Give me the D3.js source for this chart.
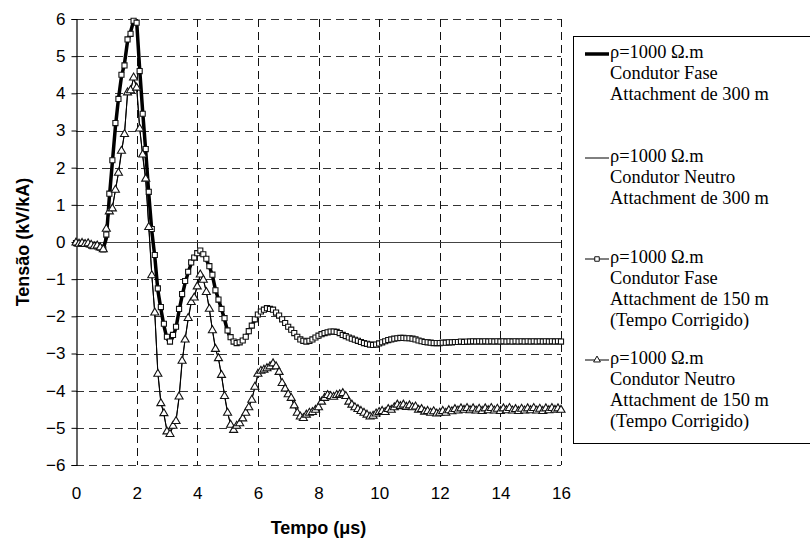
<!DOCTYPE html>
<html><head><meta charset="utf-8">
<script src="https://cdn.jsdelivr.net/npm/d3@7"></script>
<style>html,body{margin:0;padding:0;background:#fff;}svg{display:block;}</style>
</head><body>
<svg id="chart" width="810" height="542"></svg>
<script>
const time = [0,0.1,0.2,0.3,0.4,0.5,0.6,0.7,0.8,0.9,1,1.1,1.2,1.3,1.4,1.5,1.6,1.7,1.8,1.9,2,2.1,2.2,2.3,2.4,2.5,2.6,2.7,2.8,2.9,3,3.1,3.2,3.3,3.4,3.5,3.6,3.7,3.8,3.9,4,4.1,4.2,4.3,4.4,4.5,4.6,4.7,4.8,4.9,5,5.1,5.2,5.3,5.4,5.5,5.6,5.7,5.8,5.9,6,6.1,6.2,6.3,6.4,6.5,6.6,6.7,6.8,6.9,7,7.1,7.2,7.3,7.4,7.5,7.6,7.7,7.8,7.9,8,8.1,8.2,8.3,8.4,8.5,8.6,8.7,8.8,8.9,9,9.1,9.2,9.3,9.4,9.5,9.6,9.7,9.8,9.9,10,10.1,10.2,10.3,10.4,10.5,10.6,10.7,10.8,10.9,11,11.1,11.2,11.3,11.4,11.5,11.6,11.7,11.8,11.9,12,12.1,12.2,12.3,12.4,12.5,12.6,12.7,12.8,12.9,13,13.1,13.2,13.3,13.4,13.5,13.6,13.7,13.8,13.9,14,14.1,14.2,14.3,14.4,14.5,14.6,14.7,14.8,14.9,15,15.1,15.2,15.3,15.4,15.5,15.6,15.7,15.8,15.9,16];

const fase300 = [-0.02,-0.04,-0.04,-0.06,-0.05,-0.08,-0.1,-0.1,-0.14,-0.18,
0.1,1.2,2.15,3.1,3.85,4.45,4.8,5.4,5.65,5.95,
5.95,4.65,3.5,2.45,1.3,0.3,-0.4,-1.3,-1.8,-2.25,
-2.6,-2.7,-2.55,-2.3,-1.85,-1.45,-1.1,-0.82,-0.58,-0.42,
-0.3,-0.25,-0.32,-0.48,-0.66,-0.9,-1.28,-1.55,-1.8,-2.08,
-2.4,-2.58,-2.68,-2.72,-2.7,-2.64,-2.55,-2.42,-2.25,-2.1,
-1.96,-1.87,-1.82,-1.79,-1.8,-1.83,-1.9,-1.99,-2.08,-2.18,
-2.28,-2.37,-2.46,-2.55,-2.62,-2.66,-2.68,-2.66,-2.62,-2.57,
-2.52,-2.48,-2.45,-2.43,-2.42,-2.41,-2.42,-2.45,-2.49,-2.53,
-2.57,-2.6,-2.63,-2.66,-2.69,-2.72,-2.74,-2.75,-2.76,-2.75,
-2.73,-2.7,-2.67,-2.65,-2.63,-2.61,-2.6,-2.59,-2.59,-2.59,
-2.6,-2.61,-2.63,-2.65,-2.67,-2.69,-2.7,-2.71,-2.71,-2.72,
-2.72,-2.71,-2.71,-2.7,-2.7,-2.69,-2.69,-2.69,-2.68,-2.68,
-2.68,-2.68,-2.67,-2.68,-2.68,-2.67,-2.67,-2.68,-2.68,-2.67,
-2.67,-2.68,-2.68,-2.67,-2.67,-2.68,-2.68,-2.67,-2.67,-2.68,
-2.68,-2.67,-2.67,-2.68,-2.68,-2.67,-2.67,-2.68,-2.68,-2.67,-2.67];

const neutro300 = [-0.03,-0.04,-0.05,-0.05,-0.06,-0.07,-0.1,-0.12,-0.14,-0.18,
0.3,0.8,0.95,1.38,1.85,2.4,2.95,3.95,4.1,4.4,
4.2,3.1,2.3,1.65,0.45,-0.85,-1.95,-3.5,-4.3,-4.65,
-5.05,-5.15,-4.98,-4.8,-4.2,-3.25,-2.6,-2.1,-1.65,-1.45,
-1.18,-0.9,-1.0,-1.33,-1.82,-2.35,-2.85,-3.15,-3.6,-4.1,
-4.58,-4.9,-5.04,-4.97,-4.86,-4.76,-4.62,-4.44,-4.22,-3.92,
-3.58,-3.48,-3.43,-3.39,-3.34,-3.28,-3.34,-3.52,-3.78,-3.96,
-4.12,-4.22,-4.38,-4.58,-4.69,-4.72,-4.66,-4.61,-4.57,-4.5,
-4.42,-4.31,-4.2,-4.14,-4.14,-4.15,-4.13,-4.1,-4.09,-4.16,
-4.28,-4.37,-4.44,-4.5,-4.55,-4.6,-4.64,-4.68,-4.67,-4.62,
-4.57,-4.55,-4.54,-4.51,-4.49,-4.45,-4.41,-4.4,-4.4,-4.42,
-4.42,-4.44,-4.46,-4.5,-4.52,-4.55,-4.57,-4.58,-4.59,-4.6,
-4.58,-4.57,-4.56,-4.54,-4.53,-4.52,-4.51,-4.5,-4.5,-4.5,
-4.5,-4.51,-4.51,-4.51,-4.51,-4.5,-4.5,-4.5,-4.51,-4.51,
-4.51,-4.51,-4.5,-4.5,-4.5,-4.51,-4.51,-4.51,-4.5,-4.5,
-4.5,-4.5,-4.51,-4.51,-4.51,-4.5,-4.5,-4.5,-4.51,-4.51,-4.51];

const fase150 = [-0.03,-0.05,-0.02,-0.05,-0.06,-0.1,-0.08,-0.12,-0.15,-0.2,
0.2,1.3,2.2,3.2,3.85,4.5,4.75,5.45,5.6,5.95,
5.9,4.6,3.45,2.5,1.35,0.35,-0.35,-1.25,-1.75,-2.2,
-2.55,-2.68,-2.5,-2.28,-1.8,-1.4,-1.05,-0.8,-0.55,-0.42,
-0.3,-0.23,-0.33,-0.45,-0.65,-0.88,-1.3,-1.55,-1.8,-2.05,
-2.38,-2.56,-2.68,-2.72,-2.7,-2.65,-2.55,-2.4,-2.25,-2.08,
-1.95,-1.87,-1.82,-1.78,-1.8,-1.82,-1.9,-1.98,-2.08,-2.18,
-2.28,-2.36,-2.45,-2.55,-2.62,-2.66,-2.68,-2.66,-2.62,-2.57,
-2.52,-2.48,-2.45,-2.43,-2.41,-2.41,-2.42,-2.45,-2.5,-2.53,
-2.57,-2.6,-2.63,-2.66,-2.69,-2.72,-2.74,-2.76,-2.77,-2.76,
-2.73,-2.7,-2.67,-2.64,-2.62,-2.6,-2.59,-2.58,-2.58,-2.59,
-2.59,-2.6,-2.62,-2.65,-2.67,-2.69,-2.7,-2.71,-2.72,-2.72,
-2.72,-2.71,-2.71,-2.7,-2.7,-2.69,-2.69,-2.68,-2.69,-2.68,
-2.68,-2.67,-2.68,-2.67,-2.68,-2.67,-2.68,-2.67,-2.68,-2.67,
-2.68,-2.67,-2.68,-2.67,-2.68,-2.67,-2.68,-2.67,-2.68,-2.67,
-2.68,-2.67,-2.68,-2.67,-2.68,-2.67,-2.68,-2.67,-2.68,-2.67,-2.68];

const neutro150 = [-0.02,-0.05,-0.03,-0.06,-0.04,-0.08,-0.12,-0.1,-0.15,-0.2,
0.35,0.82,0.9,1.4,1.86,2.45,2.9,4.02,4.08,4.42,
4.15,3.05,2.35,1.7,0.4,-0.9,-1.9,-3.55,-4.34,-4.61,
-5.1,-5.17,-4.95,-4.82,-4.16,-3.2,-2.63,-2.05,-1.62,-1.5,
-1.2,-0.88,-1.02,-1.35,-1.8,-2.38,-2.88,-3.13,-3.58,-4.15,
-4.6,-4.92,-5.06,-4.95,-4.88,-4.75,-4.6,-4.45,-4.25,-3.9,
-3.55,-3.47,-3.44,-3.4,-3.35,-3.27,-3.35,-3.5,-3.8,-3.95,
-4.1,-4.2,-4.4,-4.6,-4.7,-4.74,-4.65,-4.6,-4.58,-4.52,
-4.45,-4.3,-4.2,-4.12,-4.15,-4.17,-4.12,-4.1,-4.07,-4.15,
-4.3,-4.38,-4.45,-4.5,-4.55,-4.6,-4.65,-4.7,-4.68,-4.62,
-4.58,-4.55,-4.58,-4.5,-4.52,-4.45,-4.38,-4.42,-4.38,-4.44,
-4.4,-4.45,-4.43,-4.52,-4.5,-4.57,-4.55,-4.6,-4.56,-4.62,
-4.6,-4.55,-4.6,-4.53,-4.56,-4.5,-4.54,-4.48,-4.52,-4.47,
-4.53,-4.48,-4.54,-4.49,-4.55,-4.48,-4.53,-4.47,-4.54,-4.49,
-4.55,-4.48,-4.53,-4.47,-4.54,-4.5,-4.55,-4.49,-4.54,-4.48,
-4.53,-4.47,-4.54,-4.49,-4.55,-4.48,-4.53,-4.47,-4.52,-4.48,-4.52];

const xTicks = [0,2,4,6,8,10,12,14,16];
const yTicks = [-6,-5,-4,-3,-2,-1,0,1,2,3,4,5,6];

const legendLines = [
  ["ρ=1000 Ω.m","Condutor Fase","Attachment de 300 m"],
  ["ρ=1000 Ω.m","Condutor Neutro","Attachment de 300 m"],
  ["ρ=1000 Ω.m","Condutor Fase","Attachment de 150 m","(Tempo Corrigido)"],
  ["ρ=1000 Ω.m","Condutor Neutro","Attachment de 150 m","(Tempo Corrigido)"]
];

const svg = d3.select("#chart");
const L = 76, R = 561, T = 19, B = 465;
const x = d3.scaleLinear().domain([0,16]).range([L,R]);
const y = d3.scaleLinear().domain([-6,6]).range([B,T]);

const sansFont = "'Liberation Sans', Arial, sans-serif";
const serifFont = "'Liberation Serif', 'Times New Roman', serif";

// gridlines
const grid = svg.append("g");
yTicks.filter(v => v !== 0).forEach(v => {
  grid.append("line").attr("x1", L).attr("x2", R).attr("y1", Math.round(y(v))+0.5).attr("y2", Math.round(y(v))+0.5)
    .attr("stroke", "#333").attr("stroke-width", 1).attr("stroke-dasharray", "8,5");
});
xTicks.filter(v => v !== 0).forEach(v => {
  grid.append("line").attr("y1", T).attr("y2", B).attr("x1", Math.round(x(v))+0.5).attr("x2", Math.round(x(v))+0.5)
    .attr("stroke", "#111").attr("stroke-width", 1).attr("stroke-dasharray", "8,5");
});
// zero axis line
grid.append("line").attr("x1", L).attr("x2", R).attr("y1", Math.round(y(0))+0.5).attr("y2", Math.round(y(0))+0.5)
  .attr("stroke", "#444").attr("stroke-width", 1);

// y axis
const yAxis = d3.axisLeft(y).tickValues(yTicks).tickSize(5).tickPadding(6).tickFormat(d3.format("d"));
const ya = svg.append("g").attr("transform", `translate(${L+0.5},0)`).call(yAxis);
ya.select(".domain").attr("stroke", "#000").attr("stroke-width", 1.2);
ya.selectAll(".tick line").attr("stroke", "#000");
ya.selectAll("text").attr("font-family", sansFont).attr("font-size", 17).attr("fill", "#000");

// x tick labels
const xAxis = d3.axisBottom(x).tickValues(xTicks).tickSize(0).tickPadding(22).tickFormat(d3.format("d"));
const xa = svg.append("g").attr("transform", `translate(0,${B})`).call(xAxis);
xa.select(".domain").remove();
xa.selectAll("text").attr("font-family", sansFont).attr("font-size", 17).attr("fill", "#000");

// series
const line = d3.line().x((d,i) => x(time[i])).y(d => y(d));
const plot = svg.append("g");
plot.append("path").datum(fase300).attr("d", line).attr("fill","none").attr("stroke","#000").attr("stroke-width",3.5).attr("stroke-linejoin","round");
plot.append("path").datum(neutro300).attr("d", line).attr("fill","none").attr("stroke","#000").attr("stroke-width",1);
plot.append("path").datum(fase150).attr("d", line).attr("fill","none").attr("stroke","#000").attr("stroke-width",1);
plot.append("path").datum(neutro150).attr("d", line).attr("fill","none").attr("stroke","#000").attr("stroke-width",1);

const sq = d3.symbol().type(d3.symbolSquare).size(26);
const tri = d3.symbol().type(d3.symbolTriangle).size(28);
plot.selectAll(".sq").data(fase150).enter().append("path")
  .attr("d", sq).attr("transform", (d,i) => `translate(${x(time[i])},${y(d)})`)
  .attr("fill","#fff").attr("stroke","#111").attr("stroke-width",1.1);
plot.selectAll(".tri").data(neutro150).enter().append("path")
  .attr("d", tri).attr("transform", (d,i) => `translate(${x(time[i])},${y(d)})`)
  .attr("fill","#fff").attr("stroke","#111").attr("stroke-width",1.1);

// axis titles
svg.append("text").attr("x", (L+R)/2).attr("y", 534).attr("text-anchor","middle")
  .attr("font-family", sansFont).attr("font-size", 18).attr("font-weight","bold").text("Tempo (μs)");
svg.append("text").attr("transform", `translate(29,${(T+B)/2}) rotate(-90)`).attr("text-anchor","middle")
  .attr("font-family", sansFont).attr("font-size", 18).attr("font-weight","bold").text("Tensão (kV/kA)");

// legend
const lg = svg.append("g");
lg.append("rect").attr("x", 573.5).attr("y", 36.5).attr("width", 245).attr("height", 407)
  .attr("fill","#fff").attr("stroke","#000").attr("stroke-width",1);
const groupTops = [58, 162, 263, 364];
legendLines.forEach((lines, gi) => {
  const by = groupTops[gi];
  lines.forEach((s, li) => {
    lg.append("text").attr("x", 610).attr("y", by + li*21).attr("font-family", serifFont)
      .attr("font-size", 18.4).attr("fill","#000").text(s);
  });
  const ly = by - 4;
  lg.append("line").attr("x1", 585).attr("x2", 609).attr("y1", ly).attr("y2", ly)
    .attr("stroke","#000").attr("stroke-width", gi === 0 ? 3.5 : 1);
  if (gi === 2) lg.append("path").attr("d", d3.symbol().type(d3.symbolSquare).size(20)).attr("transform", `translate(597,${ly})`).attr("fill","#fff").attr("stroke","#111").attr("stroke-width",1);
  if (gi === 3) lg.append("path").attr("d", d3.symbol().type(d3.symbolTriangle).size(20)).attr("transform", `translate(597,${ly})`).attr("fill","#fff").attr("stroke","#111").attr("stroke-width",1);
});
</script>
</body></html>
